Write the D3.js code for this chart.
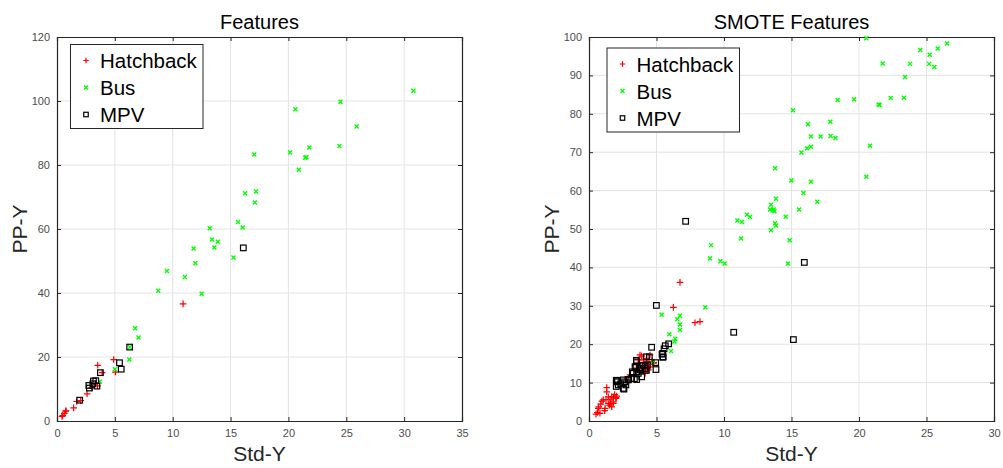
<!DOCTYPE html>
<html>
<head>
<script src="https://d3js.org/d3.v7.min.js"></script>
<style>
    body { margin: 0; background: #fff; }
    text { font-family: "Liberation Sans", Arial, sans-serif; }
    .grid line { stroke: #e3e3e3; stroke-width: 1px; }
    .tick-label { font-size: 11px; fill: #4d4d4d; }
</style>
</head>
<body>
<svg id="chart" width="1003" height="468"></svg>
<script>
// ---- data ----
var legendNames = ["Hatchback", "Bus", "MPV"];

var featHatchback = [[0.43,1.4],[0.49,1.7],[0.63,2.4],[0.75,3.1],[0.78,3.2],[1.44,4.1],[1.70,6.1],[2.05,6.4],
    [2.6,8.5],[3.0,10.4],[3.3,11.8],[3.5,11.0],[3.52,17.4],[3.9,15.1],[4.9,19.2],[5.05,15.3],[10.9,36.6]];
var featBus = [[30.8,103.2],[24.5,99.8],[20.6,97.4],[25.9,92.0],[24.4,85.9],[21.8,85.5],[20.15,83.9],[17.05,83.3],
    [21.45,82.3],[21.55,82.4],[20.9,78.5],[17.2,71.7],[16.25,71.2],[17.1,68.3],[15.65,62.2],[13.2,60.2],
    [16.05,60.5],[13.4,56.7],[13.9,56.0],[11.8,53.9],[13.6,54.2],[15.25,51.1],[11.95,49.3],[9.5,46.9],
    [11.05,45.0],[8.75,40.7],[12.5,39.8],[6.75,29.0],[7.05,26.1],[6.3,23.1],[6.25,19.2],[5.0,16.2],[3.7,12.3]];
var featMpv = [[1.96,6.5],[2.8,10.3],[2.75,11.1],[3.15,12.5],[3.35,12.6],[3.1,11.6],[3.45,10.9],[3.75,15.1],
    [5.4,18.2],[5.55,16.2],[6.28,23.1],[16.1,54.1]];

var smoteHatchback = [[0.52,1.8],[0.62,2.2],[0.72,3.7],[0.87,4.4],[0.96,5.2],[1.16,2.7],[1.26,5.6],[1.31,8.7],
    [1.43,6.3],[1.51,4.1],[1.6,4.6],[1.68,3.7],[1.8,6.3],[1.8,5.0],[1.9,6.9],[2.0,6.1],[2.05,6.5],[2.79,10.7],
    [3.04,12.0],[3.41,13.3],[3.65,15.9],[3.78,13.1],[3.9,16.9],[4.02,14.1],[4.15,12.8],[4.27,16.3],[4.39,14.8],
    [4.52,17.2],[4.52,14.1],[4.64,15.4],[4.8,15.2],[6.25,29.6],[6.74,36.1],[7.85,25.6],[8.22,25.9],
    [0.81,2.0],[1.19,3.3],[1.31,7.6],[1.56,5.5],[1.8,4.6],[2.0,5.9],[0.69,3.3],[1.06,5.5],[1.68,6.3],[1.43,4.5],
    [3.78,17.2],[4.02,15.9],[4.39,13.3],[4.15,12.4],[4.76,15.0],[3.65,15.0],[4.27,15.4]];
var smoteBus = [[20.54,99.7],[26.52,98.3],[24.54,96.6],[25.83,97.0],[25.23,95.4],[21.75,93.1],[23.78,93.0],
    [25.19,93.0],[25.58,92.2],[23.41,89.6],[22.35,84.1],[23.33,84.2],[19.63,83.8],[18.42,83.6],[21.45,82.4],
    [21.52,82.3],[15.11,80.9],[17.88,77.9],[16.22,77.3],[17.9,74.2],[17.16,74.1],[18.25,73.7],[16.44,74.1],
    [20.81,71.7],[16.44,71.4],[16.15,71.0],[15.73,69.9],[13.78,65.8],[14.99,62.6],[16.44,62.3],[20.54,63.6],
    [15.88,59.4],[13.85,57.9],[16.91,57.1],[13.48,56.3],[13.68,55.1],[13.41,55.1],[13.73,54.6],[13.6,54.9],
    [15.56,55.1],[11.7,53.7],[11.93,53.1],[10.99,52.2],[11.33,51.8],[14.57,53.2],[13.78,51.5],[13.85,50.9],
    [13.48,49.7],[11.26,47.5],[14.86,47.1],[9.04,45.8],[8.96,42.3],[9.73,41.6],[10.05,41.0],[14.74,41.0],
    [8.61,29.6],[5.38,27.7],[6.74,27.4],[6.54,26.5],[6.74,25.1],[6.74,23.7],[5.95,22.6],[6.39,21.4],
    [6.32,20.7],[6.07,18.2],[4.74,15.4]];
var smoteMpv = [[7.16,52.0],[15.95,41.3],[4.99,30.1],[10.72,23.1],[15.14,21.2],[4.64,19.2],[5.9,20.1],
    [5.65,19.6],[5.56,18.8],[5.41,17.4],[5.46,16.6],[4.96,13.4],[4.94,15.2],[4.25,16.7],[4.15,14.3],
    [3.51,15.8],[3.48,14.2],[3.53,12.8],[3.36,11.0],[3.21,12.8],[2.89,10.8],[2.64,10.2],[2.59,8.3],
    [2.35,9.7],[2.02,10.6],[2.02,9.0],[2.1,10.2],[3.73,13.7],[4.0,14.5],[4.25,13.2],
    [5.46,17.6],[5.5,16.7],[4.47,16.7],[4.32,14.6],[3.53,15.4],[3.41,14.1],[3.78,13.3],[3.65,12.4],[3.28,12.4],
    [3.16,11.1],[2.91,10.7],[2.54,10.7],[2.1,10.5],[2.17,9.4],[2.54,8.5],[2.73,9.4],[4.15,13.7],[3.9,11.5],[3.53,10.8]];

var svg = d3.select("#chart");

function drawMarker(g, kind, x, y, s) {
    s = s || 1;
    if (kind == "plus") {
        var a = 3.3 * s;
        g.append("path").attr("d", "M" + (x - a) + "," + y + "h" + (2 * a) + "M" + x + "," + (y - a) + "v" + (2 * a))
            .attr("stroke", "#ff0000").attr("stroke-width", 1.2).attr("fill", "none");
    } else if (kind == "cross") {
        g.append("path").attr("d", "M" + (x - 2) + "," + (y - 2) + "l4,4M" + (x - 2) + "," + (y + 2) + "l4,-4")
            .attr("stroke", "#00ff00").attr("stroke-width", 1.4).attr("fill", "none");
    } else {
        var h = 2.8 * s;
        g.append("rect").attr("x", x - h).attr("y", y - h).attr("width", 2 * h).attr("height", 2 * h)
            .attr("stroke", "#000").attr("stroke-width", 1.2).attr("fill", "none");
    }
}

function drawPanel(p) {
    var x = d3.scaleLinear().domain(p.xDomain).range([p.left, p.right]);
    var y = d3.scaleLinear().domain(p.yDomain).range([p.bottom, p.top]);
    var g = svg.append("g");

    // grid
    var grid = g.append("g").attr("class", "grid");
    grid.selectAll(".gx").data(p.xTicks.slice(1, -1)).enter().append("line")
        .attr("x1", d => x(d)).attr("x2", d => x(d)).attr("y1", p.top).attr("y2", p.bottom);
    grid.selectAll(".gy").data(p.yTicks.slice(1, -1)).enter().append("line")
        .attr("y1", d => y(d)).attr("y2", d => y(d)).attr("x1", p.left).attr("x2", p.right);

    // axes (ticks inward, box all round)
    var tl = 4;
    g.append("g").attr("transform", "translate(0," + p.bottom + ")")
        .call(d3.axisBottom(x).tickValues(p.xTicks).tickSize(-tl).tickPadding(8).tickFormat(d3.format("d")));
    g.append("g").attr("transform", "translate(" + p.left + ",0)")
        .call(d3.axisLeft(y).tickValues(p.yTicks).tickSize(-tl).tickPadding(7).tickFormat(d3.format("d")));
    g.append("g").attr("transform", "translate(0," + p.top + ")")
        .call(d3.axisTop(x).tickValues(p.xTicks).tickSize(-tl).tickFormat(""));
    g.append("g").attr("transform", "translate(" + p.right + ",0)")
        .call(d3.axisRight(y).tickValues(p.yTicks).tickSize(-tl).tickFormat(""));
    g.selectAll(".domain").attr("stroke", "#262626").attr("stroke-width", 1.2);
    g.selectAll(".tick line").attr("stroke", "#262626");
    g.selectAll(".tick text").attr("class", "tick-label").attr("font-family", null).attr("font-size", null);

    // points: Hatchback, then Bus, then MPV on top
    var pts = g.append("g");
    p.hatch.forEach(d => drawMarker(pts, "plus", x(d[0]), y(d[1])));
    p.bus.forEach(d => drawMarker(pts, "cross", x(d[0]), y(d[1])));
    p.mpv.forEach(d => drawMarker(pts, "square", x(d[0]), y(d[1])));

    // titles
    var cx = (p.left + p.right) / 2;
    g.append("text").attr("x", cx).attr("y", 29).attr("text-anchor", "middle")
        .attr("font-size", 20).attr("fill", "#000").text(p.title);
    g.append("text").attr("x", cx).attr("y", 461).attr("text-anchor", "middle")
        .attr("font-size", 21).attr("fill", "#262626").text("Std-Y");
    g.append("text").attr("transform", "translate(" + (p.left - 30) + "," + ((p.top + p.bottom) / 2) + ") rotate(-90)")
        .attr("text-anchor", "middle").attr("font-size", 21).attr("fill", "#262626").text("PP-Y");

    // legend
    var lg = g.append("g").attr("transform", "translate(" + p.legX + "," + p.legY + ")");
    lg.append("rect").attr("width", 132.5).attr("height", 84).attr("fill", "#fff")
        .attr("stroke", "#262626").attr("stroke-width", 1);
    ["plus", "cross", "square"].forEach(function (k, i) {
        var yy = 16 + i * 27;
        drawMarker(lg, k, 15.5, yy, 0.8);
        lg.append("text").attr("x", 29.5).attr("y", yy + 7.5).attr("font-size", 20.5)
            .attr("fill", "#000").text(legendNames[i]);
    });
}

drawPanel({
    title: "Features", left: 57, right: 462, top: 37, bottom: 421,
    xDomain: [0, 35], yDomain: [0, 120],
    xTicks: d3.range(0, 36, 5), yTicks: d3.range(0, 121, 20),
    hatch: featHatchback, bus: featBus, mpv: featMpv,
    legX: 70.5, legY: 44.5
});

drawPanel({
    title: "SMOTE Features", left: 589, right: 994, top: 37, bottom: 421,
    xDomain: [0, 30], yDomain: [0, 100],
    xTicks: d3.range(0, 31, 5), yTicks: d3.range(0, 101, 10),
    hatch: smoteHatchback, bus: smoteBus, mpv: smoteMpv,
    legX: 607, legY: 48
});
</script>
</body>
</html>
